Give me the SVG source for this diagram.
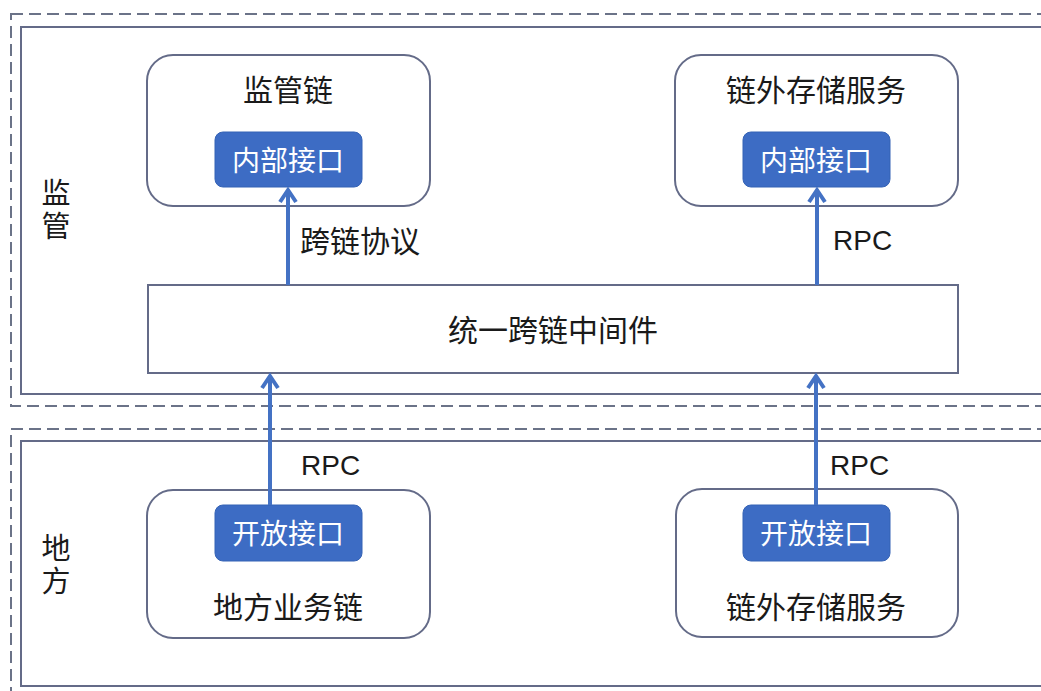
<svg xmlns="http://www.w3.org/2000/svg" width="1041" height="691" viewBox="0 0 1041 691">
<defs>
<style>
.dash{fill:none;stroke:#6b7388;stroke-width:2;stroke-dasharray:12,6}
.area{fill:#fff;stroke:#646b88;stroke-width:2}
.node{fill:#fff;stroke:#646b88;stroke-width:2}
.blue{fill:#3d6cc4;stroke:#3563b5;stroke-width:1}
.t{font-family:"Noto Sans CJK SC","Liberation Sans",sans-serif;font-size:30px;fill:#1a1a1a;text-anchor:middle;dominant-baseline:central}
.tv{font-family:"Noto Sans CJK SC","Liberation Sans",sans-serif;font-size:29px;fill:#1a1a1a;text-anchor:middle;writing-mode:vertical-rl;letter-spacing:4px}
.tw{font-family:"Noto Sans CJK SC","Liberation Sans",sans-serif;font-size:28px;fill:#fff;text-anchor:middle;dominant-baseline:central}
.lbl{font-family:"Noto Sans CJK SC","Liberation Sans",sans-serif;font-size:30px;fill:#1a1a1a;dominant-baseline:central}
.rpc{font-family:"Liberation Sans","Noto Sans CJK SC",sans-serif;font-size:28px;fill:#1a1a1a;dominant-baseline:central}
.conn{stroke:#4472c4;stroke-width:4;fill:none}
</style>
<marker id="ah" viewBox="0 0 20 20" refX="15" refY="10" markerWidth="20" markerHeight="20" markerUnits="userSpaceOnUse" orient="auto">
<path d="M3,2 L15,10 L3,18" fill="none" stroke="#4472c4" stroke-width="4"/>
</marker>
</defs>
<rect width="1041" height="691" fill="#fff"/>
<g id="region-top">
<rect class="dash" x="11" y="14" width="1060" height="392"/>
<rect class="area" x="21" y="27" width="1040" height="367"/>
<text class="tv" x="56" y="211">监管</text>
</g>
<g id="region-bottom">
<rect class="dash" x="11" y="429" width="1060" height="290"/>
<rect class="area" x="21" y="441" width="1040" height="245"/>
<text class="tv" x="56" y="566">地方</text>
</g>
<g id="node-supervision-chain">
<rect class="node" x="147" y="55" width="283" height="151" rx="26"/>
<text class="t" x="288" y="88">监管链</text>
<rect class="blue" x="215" y="132" width="147" height="55" rx="8"/>
<text class="tw" x="288" y="159">内部接口</text>
</g>
<g id="node-storage-top">
<rect class="node" x="675" y="55" width="283" height="151" rx="26"/>
<text class="t" x="816" y="88">链外存储服务</text>
<rect class="blue" x="743" y="132" width="147" height="55" rx="8"/>
<text class="tw" x="816" y="159">内部接口</text>
</g>
<g id="node-middleware">
<rect class="node" x="148" y="285" width="810" height="88"/>
<text class="t" x="553" y="328">统一跨链中间件</text>
</g>
<g id="node-local-chain">
<rect class="node" x="147" y="490" width="283" height="148" rx="26"/>
<rect class="blue" x="215" y="505" width="147" height="56" rx="8"/>
<text class="tw" x="288" y="532">开放接口</text>
<text class="t" x="288" y="605">地方业务链</text>
</g>
<g id="node-storage-bottom">
<rect class="node" x="676" y="489" width="282" height="148" rx="26"/>
<rect class="blue" x="743" y="505" width="147" height="56" rx="8"/>
<text class="tw" x="816" y="532">开放接口</text>
<text class="t" x="816" y="605">链外存储服务</text>
</g>
<g id="connectors">
<line class="conn" x1="288" y1="285" x2="288" y2="190" marker-end="url(#ah)"/>
<line class="conn" x1="817" y1="285" x2="817" y2="190" marker-end="url(#ah)"/>
<line class="conn" x1="270" y1="505" x2="270" y2="376" marker-end="url(#ah)"/>
<line class="conn" x1="816" y1="505" x2="816" y2="376" marker-end="url(#ah)"/>
<text class="lbl" x="300" y="239">跨链协议</text>
<text class="rpc" x="833" y="240">RPC</text>
<text class="rpc" x="301" y="465">RPC</text>
<text class="rpc" x="830" y="465">RPC</text>
</g>
</svg>
